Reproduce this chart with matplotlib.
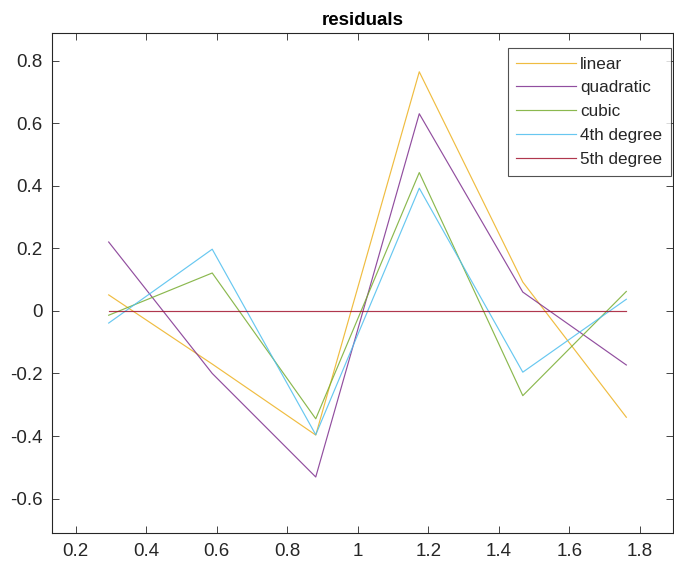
import matplotlib
matplotlib.use("Agg")
import matplotlib.pyplot as plt
import numpy as np

plt.rcParams['font.family'] = ['Liberation Sans', 'DejaVu Sans']

x = [0.2936, 0.5872, 0.8808, 1.1744, 1.4680, 1.7616]
r_linear = [0.051, -0.170, -0.397, 0.764, 0.092, -0.340]
r_quad = [0.220, -0.200, -0.531, 0.630, 0.060, -0.173]
r_cubic = [-0.014, 0.121, -0.345, 0.442, -0.271, 0.062]
r_4th = [-0.039, 0.197, -0.396, 0.392, -0.196, 0.037]
r_5th = [0, 0, 0, 0, 0, 0]
labels = ['linear', 'quadratic', 'cubic', '4th degree', '5th degree']
colors = ['#EDB120', '#7E2F8E', '#77AC30', '#4DBEEE', '#A2142F']

W, H = 674, 566
fig = plt.figure(figsize=(W/100, H/100), dpi=100)
ax = fig.add_axes([52/W, (H-533)/H, 621/W, 500/H])

for yy, lab, c in zip([r_linear, r_quad, r_cubic, r_4th, r_5th], labels, colors):
    ax.plot(x, yy, color=c, linewidth=0.85, alpha=0.85, label=lab)

ax.set_xlim(0.1328, 1.894)
ax.set_ylim(-0.71, 0.888)
ax.set_xticks(np.arange(0.2, 1.81, 0.2))
ax.set_xticklabels(['0.2', '0.4', '0.6', '0.8', '1', '1.2', '1.4', '1.6', '1.8'])
ax.set_yticks(np.arange(-0.6, 0.81, 0.2))
ax.set_yticklabels(['-0.6', '-0.4', '-0.2', '0', '0.2', '0.4', '0.6', '0.8'])

dark = '#262626'
ax.tick_params(direction='in', length=5, width=0.6, colors=dark, labelsize=13.5,
               top=True, right=True, pad=7)
for sp in ax.spines.values():
    sp.set_color(dark)
    sp.set_linewidth(0.8)

ax.set_title('residuals', fontsize=13.5, fontweight='bold', color='black', pad=6)

leg = ax.legend(loc='upper right', bbox_to_anchor=((671-52)/621, (533-48)/500),
                fontsize=12.3, frameon=True, fancybox=False, handlelength=3.5,
                handletextpad=0.25, labelspacing=0.52, borderpad=0.5,
                borderaxespad=0)
leg.get_frame().set_edgecolor(dark)
leg.get_frame().set_linewidth(0.8)
for t in leg.get_texts():
    t.set_color(dark)

fig.savefig('out.png', dpi=100)
